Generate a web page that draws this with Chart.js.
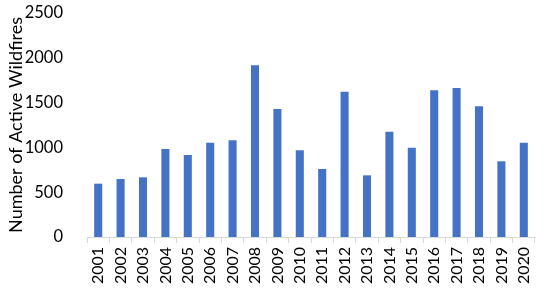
<!DOCTYPE html>
<html><head><meta charset="utf-8">
<script src="https://cdn.jsdelivr.net/npm/chart.js@4/dist/chart.umd.min.js"></script>
<style>html,body{margin:0;padding:0;background:#fff}#wrap{width:550px;height:297px;position:relative}</style>
</head><body><div id="wrap"><canvas id="c"></canvas></div>
<script>
const years = ['2001','2002','2003','2004','2005','2006','2007','2008','2009','2010','2011','2012','2013','2014','2015','2016','2017','2018','2019','2020'];
const wildfires = [595,647,666,982,915,1052,1079,1916,1429,968,759,1622,688,1175,997,1637,1663,1458,845,1052];
const yTicks = [0,500,1000,1500,2000,2500];
const FONT = 'Lato, "Open Sans", sans-serif';
new Chart(document.getElementById('c'), {
  type: 'bar',
  data: { labels: years, datasets: [{ data: wildfires, backgroundColor: '#4472C4', barPercentage: 0.36, categoryPercentage: 1.0 }] },
  options: {
    responsive: true, maintainAspectRatio: false, animation: false,
    layout: { padding: { left: 4, right: 15, top: 13, bottom: 0 } },
    plugins: { legend: { display: false }, tooltip: { enabled: false } },
    scales: {
      x: {
        afterFit: (s) => { s.height = 60; s.paddingLeft = 0; s.paddingRight = 0; },
        grid: { display: true, drawOnChartArea: false, offset: true, color: '#d9d9d9', tickLength: 6 },
        border: { display: true, color: '#d9d9d9', width: 1 },
        ticks: { color: '#000', font: { family: FONT, size: 16 }, minRotation: 90, maxRotation: 90, padding: 4, autoSkip: false }
      },
      y: {
        min: 0, max: 2500,
        afterBuildTicks: (s) => { s.ticks = yTicks.map(v => ({ value: v })); },
        afterFit: (s) => { s.width = 83; s.paddingTop = 0; s.paddingBottom = 0; },
        grid: { display: false },
        border: { display: false },
        ticks: { color: '#000', font: { family: FONT, size: 16.5 }, padding: 16, callback: (v) => String(v) },
        title: { display: true, text: 'Number of Active Wildfires', color: '#000', font: { family: FONT, size: 18 }, padding: { top: 1, bottom: 7 } }
      }
    }
  }
});
</script></body></html>
